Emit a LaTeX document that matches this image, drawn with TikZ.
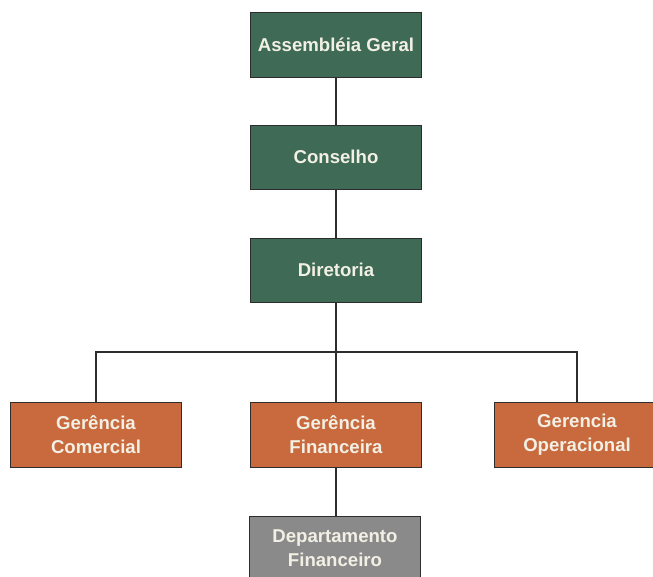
\documentclass[tikz,border=0pt]{standalone}
\usepackage{fontspec}
\setmainfont{Liberation Sans}
\definecolor{boardgreen}{RGB}{62,106,86}
\definecolor{mgrorange}{RGB}{200,106,62}
\definecolor{deptgray}{RGB}{138,138,138}
\definecolor{labelcream}{RGB}{242,240,228}
\definecolor{edgedark}{RGB}{45,45,45}
\tikzset{
  x=1pt, y=-1pt,
  unitbox/.style={draw=edgedark, line width=1pt, minimum width=171pt, minimum height=65pt,
    inner sep=0pt, align=center, text=labelcream, font=\bfseries\fontsize{18.6}{24}\selectfont},
  board/.style={unitbox, fill=boardgreen},
  mgr/.style={unitbox, fill=mgrorange},
  dept/.style={unitbox, fill=deptgray},
  link/.style={draw=edgedark, line width=1.3pt}
}
\begin{document}
\begin{tikzpicture}
\useasboundingbox (0,0) rectangle (653,576);
\clip (0,0) rectangle (653,576);
\fill[white] (0,0) rectangle (653,576);

% governance chain
\node[board] (ag) at (336,45) {Assembléia Geral};
\node[board, minimum height=64pt] (cons) at (336,157) {Conselho};
\node[board, minimum height=64pt] (dir) at (336,270) {Diretoria};

% management level
\node[mgr] (gc) at (96,435) {Gerência\\Comercial};
\node[mgr] (gf) at (336,435) {Gerência\\Financeira};
\node[mgr, minimum width=166pt] (go) at (577,435) {Gerencia\\Operacional};

% department
\node[dept] (df) at (335,548.5) {Departamento\\Financeiro};

\coordinate (bus) at (336,352);

\draw[link] (ag.south) -- (cons.north);
\draw[link] (cons.south) -- (dir.north);
\draw[link] (dir.south) -- (bus);
\draw[link] (gc.north) |- (bus) -| (go.north);
\draw[link] (bus) -- (gf.north);
\draw[link] (gf.south) -- (df.north -| gf.south);
\end{tikzpicture}
\end{document}
